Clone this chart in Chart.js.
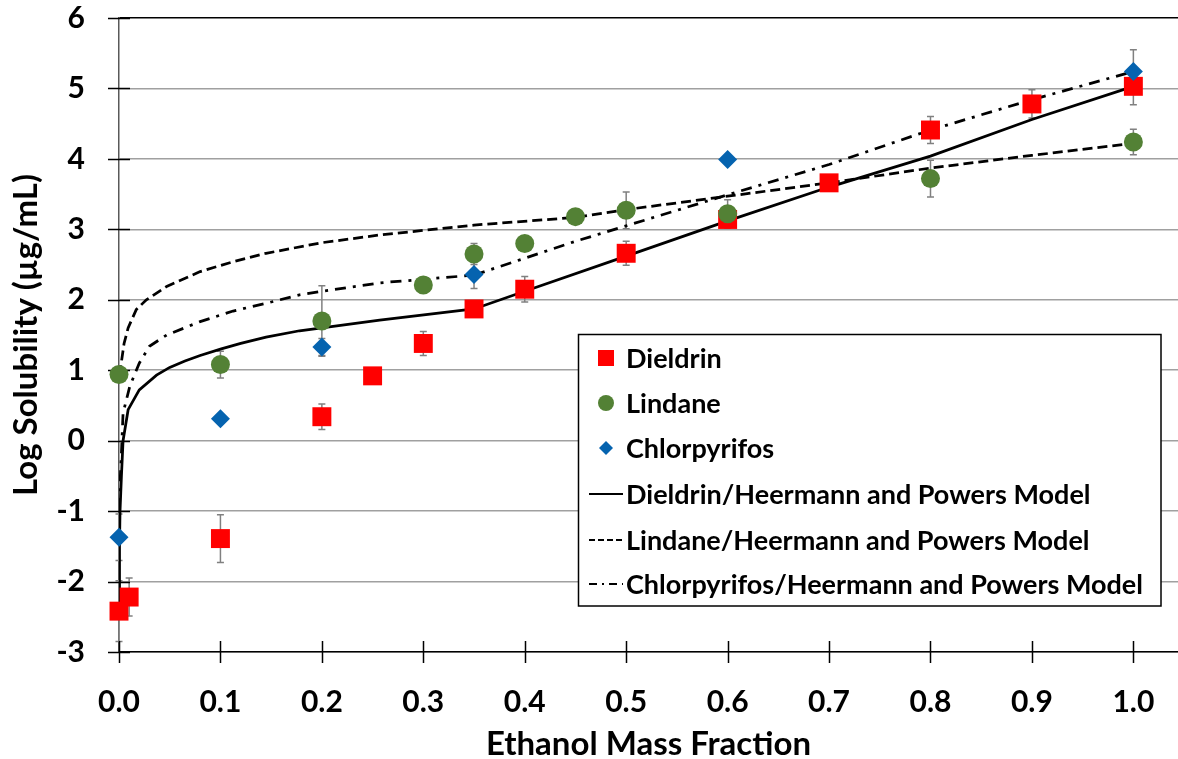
<!DOCTYPE html>
<html>
<head>
<meta charset="utf-8">
<script src="https://cdn.jsdelivr.net/npm/chart.js@4.4.1/dist/chart.umd.min.js"></script>
<style>
  html, body { margin: 0; padding: 0; background: #fff; }
  canvas { display: block; }
</style>
</head>
<body>
<canvas id="chart" width="1178" height="759"></canvas>
<script>
// measured solubilities (log µg/mL) vs ethanol mass fraction
const dieldrinX   = [0, 0.01, 0.1, 0.2, 0.25, 0.3, 0.35, 0.4, 0.5, 0.6, 0.7, 0.8, 0.9, 1.0];
const dieldrinY   = [-2.42, -2.22, -1.39, 0.34, 0.92, 1.38, 1.87, 2.15, 2.66, 3.14, 3.66, 4.41, 4.78, 5.03];
const dieldrinErr = [0.43, 0.27, 0.34, 0.18, 0, 0.17, 0, 0.18, 0.17, 0, 0, 0.19, 0.2, 0.26];

const lindaneX   = [0, 0.1, 0.2, 0.3, 0.35, 0.4, 0.45, 0.5, 0.6, 0.8, 1.0];
const lindaneY   = [0.94, 1.08, 1.70, 2.21, 2.65, 2.80, 3.18, 3.27, 3.22, 3.72, 4.24];
const lindaneErr = [0, 0.19, 0.5, 0, 0.15, 0, 0, 0.26, 0.2, 0.26, 0.18];

const chlorX   = [0, 0.1, 0.2, 0.35, 0.6, 1.0];
const chlorY   = [-1.37, 0.31, 1.33, 2.36, 3.99, 5.24];
const chlorErr = [0.33, 0, 0.12, 0.2, 0, 0.31];

// Heermann and Powers model curves
const dieldrinModelX = [0, 0.0005, 0.001, 0.0024, 0.004, 0.009, 0.02, 0.037, 0.05, 0.065, 0.08, 0.1, 0.12, 0.145, 0.178, 0.257, 0.35, 0.4, 0.5, 0.6, 0.7, 0.8, 0.9, 1.0];
const dieldrinModelY = [-2.42, -1.5, -1.0, -0.5, 0.0, 0.44, 0.72, 0.93, 1.04, 1.13, 1.21, 1.3, 1.38, 1.47, 1.56, 1.71, 1.87, 2.12, 2.62, 3.12, 3.6, 4.04, 4.56, 5.03];

const lindaneModelX = [0, 0.0024, 0.005, 0.009, 0.017, 0.027, 0.047, 0.08, 0.1125, 0.145, 0.2, 0.257, 0.35, 0.45, 0.5, 0.6, 0.7, 0.8, 0.9, 1.0];
const lindaneModelY = [0.93, 1.12, 1.38, 1.6, 1.86, 2.0, 2.19, 2.4, 2.54, 2.66, 2.81, 2.92, 3.06, 3.17, 3.28, 3.47, 3.66, 3.87, 4.05, 4.22];

const chlorModelX = [0, 0.001, 0.0024, 0.004, 0.0106, 0.02, 0.03, 0.047, 0.08, 0.1125, 0.145, 0.178, 0.2, 0.257, 0.35, 0.45, 0.5, 0.6, 0.7, 0.8, 0.9, 1.0];
const chlorModelY = [-1.37, -0.6, -0.18, 0.39, 0.77, 1.10, 1.34, 1.5, 1.69, 1.84, 1.95, 2.07, 2.12, 2.24, 2.35, 2.83, 3.05, 3.49, 3.92, 4.41, 4.84, 5.24];

const xTicks = [0, 0.1, 0.2, 0.3, 0.4, 0.5, 0.6, 0.7, 0.8, 0.9, 1.0];

const legendLabels = [
  "Dieldrin",
  "Lindane",
  "Chlorpyrifos",
  "Dieldrin/Heermann and Powers Model",
  "Lindane/Heermann and Powers Model",
  "Chlorpyrifos/Heermann and Powers Model"
];

const RED = "#FF0000";
const GREEN = "#538135";
const BLUE = "#0563AF";
const FONT = "Lato";

const DASH = [10, 5];
const DASH_DOT = [11, 7, 3, 7];

const pts = (xs, ys) => xs.map((x, i) => ({ x, y: ys[i] }));

// ---- error bars, drawn under the markers ----
const errorSets = [
  { xs: dieldrinX, ys: dieldrinY, err: dieldrinErr },
  { xs: lindaneX, ys: lindaneY, err: lindaneErr },
  { xs: chlorX, ys: chlorY, err: chlorErr }
];

const errorBars = {
  id: "errorBars",
  beforeDatasetsDraw(chart) {
    const { ctx, scales: { x, y } } = chart;
    ctx.save();
    ctx.strokeStyle = "#808080";
    ctx.lineWidth = 1.5;
    for (const s of errorSets) {
      s.xs.forEach((xv, i) => {
        const e = s.err[i];
        if (!e) return;
        const px = x.getPixelForValue(xv);
        const top = y.getPixelForValue(s.ys[i] + e);
        const bot = y.getPixelForValue(s.ys[i] - e);
        ctx.beginPath();
        ctx.moveTo(px, top); ctx.lineTo(px, bot);
        ctx.moveTo(px - 3.5, top); ctx.lineTo(px + 3.5, top);
        ctx.moveTo(px - 3.5, bot); ctx.lineTo(px + 3.5, bot);
        ctx.stroke();
      });
    }
    ctx.restore();
  }
};

// ---- tick marks that cross the axis lines ----
const crossTicks = {
  id: "crossTicks",
  beforeDatasetsDraw(chart) {
    const { ctx, scales: { x, y } } = chart;
    const x0 = x.getPixelForValue(0);
    const y0 = y.bottom;
    ctx.save();
    ctx.strokeStyle = "#000";
    ctx.lineWidth = 1.5;
    ctx.beginPath();
    y.ticks.forEach(t => {
      const py = Math.round(y.getPixelForValue(t.value)) + 0.5;
      ctx.moveTo(x0 - 11, py); ctx.lineTo(x0 + 11, py);
    });
    xTicks.forEach(v => {
      const px = Math.round(x.getPixelForValue(v)) + 0.5;
      ctx.moveTo(px, y0 - 11); ctx.lineTo(px, y0 + 11);
    });
    ctx.stroke();
    ctx.restore();
  }
};

// ---- boxed legend inside the plot ----
const boxLegend = {
  id: "boxLegend",
  afterDraw(chart) {
    const ctx = chart.ctx;
    const left = 578.5, top = 334.5, right = 1161, bottom = 606;
    ctx.save();
    ctx.fillStyle = "#fff";
    ctx.fillRect(left, top, right - left, bottom - top);
    ctx.strokeStyle = "#000";
    ctx.lineWidth = 1.5;
    ctx.strokeRect(left, top, right - left, bottom - top);

    const rows = [358, 403, 448, 494, 540, 584];
    const mx = 606;
    // markers
    ctx.fillStyle = RED;
    ctx.fillRect(mx - 8, rows[0] - 8, 16, 16);
    ctx.fillStyle = GREEN;
    ctx.beginPath(); ctx.arc(mx, rows[1], 8, 0, Math.PI * 2); ctx.fill();
    ctx.fillStyle = BLUE;
    ctx.beginPath();
    ctx.moveTo(mx, rows[2] - 7); ctx.lineTo(mx + 7, rows[2]);
    ctx.lineTo(mx, rows[2] + 7); ctx.lineTo(mx - 7, rows[2]);
    ctx.closePath(); ctx.fill();
    // line samples
    const dashes = [[], [6, 3], [8, 5, 2, 5]];
    dashes.forEach((d, i) => {
      ctx.beginPath();
      ctx.setLineDash(d);
      ctx.strokeStyle = "#000";
      ctx.lineWidth = 2;
      ctx.moveTo(589, rows[3 + i]); ctx.lineTo(623, rows[3 + i]);
      ctx.stroke();
    });
    ctx.setLineDash([]);
    // labels
    ctx.fillStyle = "#000";
    ctx.font = `bold 27px ${FONT}`;
    ctx.textBaseline = "middle";
    ctx.textAlign = "left";
    legendLabels.forEach((t, i) => ctx.fillText(t, 626, rows[i] + 1));
    ctx.restore();
  }
};

const lineDs = (label, xs, ys, dash) => ({
  type: "line",
  label,
  data: pts(xs, ys),
  borderColor: "#000",
  borderWidth: 2.75,
  borderDash: dash,
  pointRadius: 0,
  fill: false,
  tension: 0,
  order: 10
});

new Chart(document.getElementById("chart").getContext("2d"), {
  type: "scatter",
  data: {
    datasets: [
      {
        label: "Dieldrin",
        data: pts(dieldrinX, dieldrinY),
        pointStyle: "rect",
        pointRadius: 13.4,
        backgroundColor: RED,
        borderColor: RED,
        borderWidth: 0,
        clip: false,
        order: 3
      },
      {
        label: "Lindane",
        data: pts(lindaneX, lindaneY),
        pointStyle: "circle",
        pointRadius: 9.5,
        backgroundColor: GREEN,
        borderColor: GREEN,
        borderWidth: 0,
        clip: false,
        order: 2
      },
      {
        label: "Chlorpyrifos",
        data: pts(chlorX, chlorY),
        pointStyle: "rectRot",
        pointRadius: 9.5,
        backgroundColor: BLUE,
        borderColor: BLUE,
        borderWidth: 0,
        clip: false,
        order: 1
      },
      lineDs("Dieldrin/Heermann and Powers Model", dieldrinModelX, dieldrinModelY, []),
      lineDs("Lindane/Heermann and Powers Model", lindaneModelX, lindaneModelY, DASH),
      lineDs("Chlorpyrifos/Heermann and Powers Model", chlorModelX, chlorModelY, DASH_DOT)
    ]
  },
  options: {
    responsive: false,
    animation: false,
    devicePixelRatio: 1,
    layout: { autoPadding: false, padding: { top: 18, right: 0, left: 0, bottom: 0 } },
    plugins: {
      legend: { display: false },
      tooltip: { enabled: false }
    },
    scales: {
      x: {
        type: "linear",
        min: 0,
        max: 1.044,
        afterBuildTicks: (scale) => { scale.ticks = xTicks.map(v => ({ value: v })); },
        afterFit: (scale) => {
          scale.height = 107;
          scale.paddingLeft = 0;
          scale.paddingRight = 0;
        },
        ticks: {
          callback: (v) => Number(v).toFixed(1),
          color: "#000",
          padding: 32,
          maxRotation: 0,
          autoSkip: false,
          font: { family: FONT, size: 30, weight: "bold" }
        },
        grid: { display: false, drawTicks: false },
        border: { display: true, color: "#000", width: 1.5 },
        title: {
          display: true,
          text: "Ethanol Mass Fraction",
          color: "#000",
          font: { family: FONT, size: 33, weight: "bold", lineHeight: 0.9 },
          padding: { top: 0, bottom: 0 }
        }
      },
      y: {
        min: -3,
        max: 6,
        afterFit: (scale) => {
          scale.width = 119;
          scale.paddingTop = 0;
          scale.paddingBottom = 0;
        },
        ticks: {
          stepSize: 1,
          color: "#000",
          padding: 34,
          font: { family: FONT, size: 30, weight: "bold" }
        },
        grid: {
          z: -1,
          drawTicks: false,
          lineWidth: 1.5,
          color: (c) => (c.tick && c.tick.value === 6 ? "#000" : "#a0a0a0")
        },
        border: { display: true, color: "#595959", width: 1.5 },
        title: {
          display: true,
          text: "Log Solubility (µg/mL)",
          color: "#000",
          font: { family: FONT, size: 33, weight: "bold", lineHeight: 1 },
          padding: { top: 10, bottom: 0 }
        }
      }
    }
  },
  plugins: [errorBars, crossTicks, boxLegend]
});
</script>
</body>
</html>
